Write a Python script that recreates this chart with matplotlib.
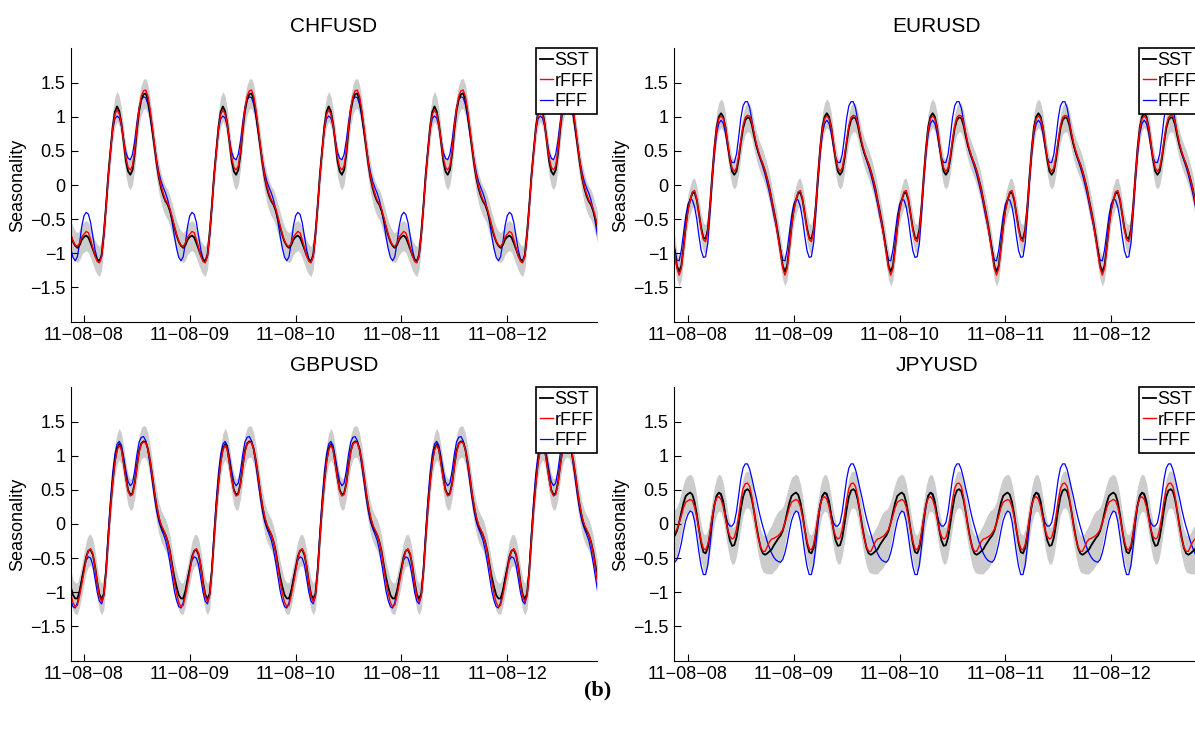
import numpy as np
import matplotlib.pyplot as plt

plt.rcParams['font.family'] = ['Liberation Sans', 'DejaVu Sans']

# daily seasonality profiles every half hour (0:00 .. 23:30)
hours = np.arange(48) / 48.0

chf_sst = [-0.76, -0.74, -0.77, -0.85, -0.94, -1.03, -1.09, -1.12, -1.02, -0.70, -0.30, 0.15,
           0.50, 0.85, 1.07, 1.15, 1.08, 0.90, 0.62, 0.35, 0.20, 0.15, 0.22, 0.45,
           0.80, 1.08, 1.25, 1.33, 1.34, 1.25, 1.05, 0.80, 0.55, 0.30, 0.10, -0.05,
           -0.16, -0.24, -0.29, -0.38, -0.50, -0.62, -0.74, -0.83, -0.89, -0.92, -0.88, -0.80]
chf_rfff = [-0.72, -0.68, -0.70, -0.80, -0.92, -1.04, -1.12, -1.14, -1.04, -0.72, -0.32, 0.12,
            0.48, 0.82, 1.03, 1.10, 1.04, 0.88, 0.64, 0.40, 0.26, 0.22, 0.28, 0.50,
            0.85, 1.12, 1.30, 1.38, 1.39, 1.30, 1.10, 0.85, 0.58, 0.33, 0.13, -0.02,
            -0.13, -0.22, -0.27, -0.35, -0.47, -0.60, -0.72, -0.82, -0.88, -0.90, -0.85, -0.76]
chf_fff = [-0.45, -0.40, -0.43, -0.55, -0.75, -0.95, -1.08, -1.12, -1.05, -0.75, -0.32, 0.12,
           0.50, 0.80, 0.97, 1.01, 0.98, 0.86, 0.66, 0.48, 0.39, 0.37, 0.45, 0.65,
           0.92, 1.14, 1.25, 1.29, 1.28, 1.18, 1.00, 0.78, 0.55, 0.35, 0.18, 0.05,
           -0.04, -0.12, -0.22, -0.36, -0.55, -0.75, -0.93, -1.06, -1.11, -1.05, -0.85, -0.60]
chf_band = [0.22] * 48

eur_sst = [-0.35, -0.22, -0.12, -0.11, -0.22, -0.42, -0.63, -0.77, -0.79, -0.65, -0.30, 0.15,
           0.55, 0.85, 1.00, 1.05, 1.00, 0.85, 0.60, 0.37, 0.20, 0.15, 0.20, 0.38,
           0.62, 0.83, 0.95, 0.99, 0.98, 0.88, 0.72, 0.58, 0.47, 0.38, 0.30, 0.20,
           0.08, -0.05, -0.22, -0.38, -0.55, -0.75, -0.97, -1.18, -1.27, -1.18, -0.90, -0.60]
eur_rfff = [-0.38, -0.22, -0.10, -0.08, -0.20, -0.42, -0.65, -0.80, -0.83, -0.68, -0.32, 0.12,
            0.52, 0.82, 0.97, 1.01, 0.97, 0.84, 0.62, 0.40, 0.25, 0.20, 0.25, 0.42,
            0.66, 0.87, 0.99, 1.02, 1.01, 0.92, 0.76, 0.61, 0.49, 0.39, 0.30, 0.20,
            0.08, -0.06, -0.23, -0.40, -0.58, -0.79, -1.01, -1.22, -1.32, -1.22, -0.94, -0.62]
eur_fff = [-0.28, -0.21, -0.22, -0.32, -0.50, -0.75, -0.96, -1.06, -1.05, -0.85, -0.42, 0.05,
           0.45, 0.75, 0.90, 0.95, 0.90, 0.76, 0.56, 0.40, 0.33, 0.33, 0.45, 0.70,
           0.98, 1.16, 1.22, 1.22, 1.13, 0.95, 0.75, 0.58, 0.46, 0.36, 0.26, 0.15,
           0.02, -0.12, -0.28, -0.45, -0.60, -0.78, -0.95, -1.10, -1.11, -0.95, -0.70, -0.45]
eur_band = [0.21] * 48

gbp_sst = [-0.65, -0.48, -0.39, -0.38, -0.45, -0.62, -0.85, -1.03, -1.10, -1.02, -0.68, -0.20,
           0.25, 0.62, 0.92, 1.10, 1.17, 1.10, 0.90, 0.68, 0.50, 0.43, 0.45, 0.60,
           0.85, 1.07, 1.18, 1.21, 1.20, 1.10, 0.92, 0.70, 0.45, 0.25, 0.08, -0.03,
           -0.10, -0.16, -0.26, -0.40, -0.60, -0.78, -0.92, -1.04, -1.09, -1.09, -0.98, -0.82]
gbp_rfff = [-0.70, -0.50, -0.39, -0.36, -0.43, -0.62, -0.87, -1.06, -1.14, -1.05, -0.70, -0.22,
            0.23, 0.60, 0.90, 1.08, 1.15, 1.09, 0.88, 0.66, 0.48, 0.41, 0.43, 0.58,
            0.83, 1.05, 1.17, 1.20, 1.19, 1.09, 0.92, 0.70, 0.46, 0.26, 0.10, -0.01,
            -0.08, -0.15, -0.26, -0.42, -0.64, -0.85, -1.02, -1.15, -1.21, -1.19, -1.05, -0.88]
gbp_fff = [-0.65, -0.53, -0.48, -0.50, -0.60, -0.80, -1.00, -1.13, -1.17, -1.05, -0.65, -0.12,
           0.35, 0.75, 1.02, 1.17, 1.21, 1.15, 0.98, 0.78, 0.62, 0.56, 0.60, 0.78,
           1.02, 1.20, 1.27, 1.28, 1.22, 1.08, 0.86, 0.62, 0.38, 0.18, 0.03, -0.07,
           -0.15, -0.24, -0.38, -0.57, -0.78, -0.98, -1.12, -1.21, -1.23, -1.15, -1.00, -0.80]
gbp_band = [0.23] * 48

jpy_sst = [0.44, 0.46, 0.43, 0.32, 0.14, -0.08, -0.28, -0.41, -0.43, -0.35, -0.15, 0.08,
           0.28, 0.41, 0.46, 0.44, 0.33, 0.13, -0.08, -0.24, -0.32, -0.31, -0.20, 0.00,
           0.22, 0.40, 0.49, 0.51, 0.48, 0.36, 0.18, -0.02, -0.20, -0.35, -0.43, -0.45,
           -0.43, -0.40, -0.37, -0.31, -0.26, -0.21, -0.17, -0.10, 0.02, 0.17, 0.31, 0.41]
jpy_rfff = [0.34, 0.36, 0.34, 0.25, 0.10, -0.08, -0.25, -0.36, -0.38, -0.30, -0.12, 0.10,
            0.28, 0.38, 0.40, 0.36, 0.25, 0.08, -0.08, -0.18, -0.22, -0.20, -0.08, 0.12,
            0.35, 0.52, 0.59, 0.60, 0.55, 0.40, 0.18, -0.05, -0.22, -0.34, -0.40, -0.40,
            -0.33, -0.26, -0.22, -0.21, -0.19, -0.17, -0.13, -0.08, 0.02, 0.12, 0.24, 0.32]
jpy_fff = [0.14, 0.19, 0.17, 0.04, -0.18, -0.42, -0.62, -0.74, -0.74, -0.60, -0.32, 0.00,
           0.27, 0.42, 0.46, 0.42, 0.30, 0.14, 0.02, -0.03, -0.03, 0.02, 0.18, 0.42,
           0.66, 0.82, 0.88, 0.88, 0.80, 0.67, 0.52, 0.38, 0.22, 0.08, -0.04, -0.15,
           -0.26, -0.35, -0.43, -0.49, -0.53, -0.55, -0.56, -0.52, -0.42, -0.28, -0.10, 0.05]
jpy_band = [0.27] * 36 + [0.30, 0.33, 0.36, 0.38, 0.40, 0.40, 0.38, 0.35, 0.32, 0.30, 0.28, 0.27]

titles = ['CHFUSD', 'EURUSD', 'GBPUSD', 'JPYUSD']
day_ticks = [0, 1, 2, 3, 4]
day_labels = ['11\u221208\u221208', '11\u221208\u221209', '11\u221208\u221210',
              '11\u221208\u221211', '11\u221208\u221212']
y_ticks = [-1.5, -1, -0.5, 0, 0.5, 1, 1.5]
y_labels = ['\u22121.5', '\u22121', '\u22120.5', '0', '0.5', '1', '1.5']

panels = [(chf_sst, chf_rfff, chf_fff, chf_band),
          (eur_sst, eur_rfff, eur_fff, eur_band),
          (gbp_sst, gbp_rfff, gbp_fff, gbp_band),
          (jpy_sst, jpy_rfff, jpy_fff, jpy_band)]

# axes rectangles in pixels: left, top (right column runs past the figure edge)
W, H = 1195.0, 735.0
ax_w, ax_h = 526.0, 273.2
corners = [(71, 48.4), (674, 48.4), (71, 387.4), (674, 387.4)]
x_starts = [-0.123, -0.132, -0.123, -0.132]
day_w = 105.8

days = np.arange(-1, 6)
t = np.concatenate([d + hours for d in days])

fig = plt.figure(figsize=(W / 100, H / 100), dpi=100)

for i in range(4):
    sst, rfff, fff, band = [np.tile(np.array(a), len(days)) for a in panels[i]]
    left, top = corners[i]
    ax = fig.add_axes([left / W, 1 - (top + ax_h) / H, ax_w / W, ax_h / H])
    ax.fill_between(t, sst - band, sst + band, color='#cccccc', lw=0)
    l3, = ax.plot(t, fff, color='#0000ff', lw=0.9)
    l1, = ax.plot(t, sst, color='k', lw=1.3)
    l2, = ax.plot(t, rfff, color='#ff0000', lw=1.0)
    ax.set_xlim(x_starts[i], x_starts[i] + ax_w / day_w)
    ax.set_ylim(-2, 2)
    ax.set_xticks(day_ticks)
    ax.set_xticklabels(day_labels, fontsize=13)
    ax.set_yticks(y_ticks)
    ax.set_yticklabels(y_labels, fontsize=13)
    ax.tick_params(direction='in', length=5, width=0.8, pad=4)
    ax.spines['top'].set_visible(False)
    ax.spines['right'].set_visible(False)
    ax.set_ylabel('Seasonality', fontsize=13, labelpad=3)
    ax.set_title(titles[i], fontsize=15, pad=12)
    leg = ax.legend([l1, l2, l3], ['SST', 'rFFF', 'FFF'], loc='upper right',
                    fontsize=13, handlelength=0.7, handletextpad=0.1,
                    labelspacing=0.2, borderpad=0.2, borderaxespad=0.0,
                    fancybox=False, framealpha=1)
    leg.get_frame().set_edgecolor('k')
    leg.get_frame().set_linewidth(1.2)

fig.text(0.5, 1 - 690 / H, '(b)', ha='center', va='center', fontsize=16,
         fontweight='bold', family='Liberation Serif')

plt.savefig('out.png', dpi=100)
